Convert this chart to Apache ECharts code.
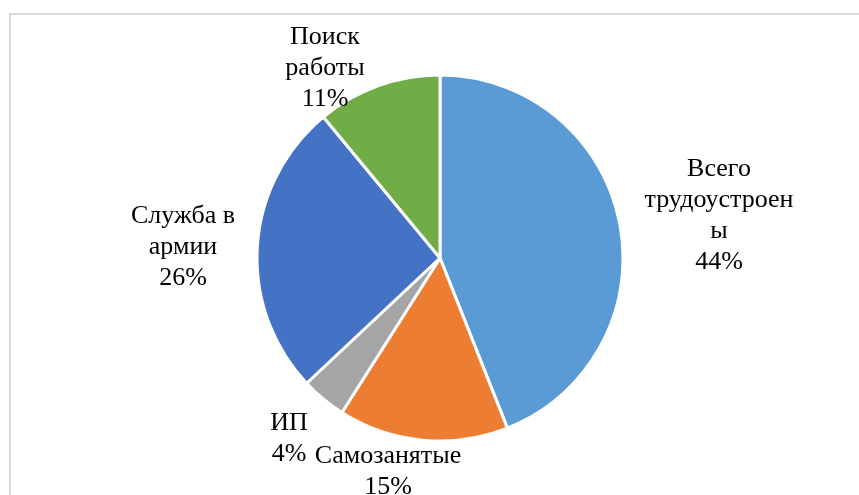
<!DOCTYPE html>
<html><head><meta charset="utf-8">
<script src="https://cdn.jsdelivr.net/npm/echarts@6/dist/echarts.min.js"></script>
<style>html,body{margin:0;padding:0;background:#fff}#c{width:859px;height:495px}</style>
</head><body><div id="c"></div>
<script>
const categories = ['Всего трудоустроены', 'Самозанятые', 'ИП', 'Служба в армии', 'Поиск работы'];
const labelText = ['Всего\nтрудоустроен\nы', 'Самозанятые', 'ИП', 'Служба в\nармии', 'Поиск\nработы'];
const values = [44, 15, 4, 26, 11];
const colors = ['#5B9BD5', '#ED7D31', '#A5A5A5', '#4472C4', '#70AD47'];

const labelAnchors = [[719, 154], [388, 441], [289, 408], [183, 201], [325, 22]];

const chart = echarts.init(document.getElementById('c'), null, {renderer: 'canvas'});
chart.setOption({
  animation: false,
  graphic: [{
    type: 'rect', shape: {x: 10, y: 14, width: 860, height: 500},
    style: {fill: 'none', stroke: '#d9d9d9', lineWidth: 2}, silent: true
  }],
  series: [{
    type: 'pie',
    center: [440, 258],
    radius: [0, 183],
    startAngle: 90,
    clockwise: true,
    itemStyle: {borderColor: '#ffffff', borderWidth: 3},
    labelLine: {show: false},
    label: {
      show: true,
      position: 'outside',
      fontFamily: '"Times New Roman", "Liberation Serif", serif',
      fontSize: 26,
      lineHeight: 31,
      color: '#000',
      align: 'center',
      formatter: p => labelText[p.dataIndex] + '\n' + values[p.dataIndex] + '%'
    },
    labelLayout: p => ({
      x: labelAnchors[p.dataIndex][0],
      y: labelAnchors[p.dataIndex][1],
      align: 'center',
      verticalAlign: 'top'
    }),
    data: categories.map((n, i) => ({name: n, value: values[i], itemStyle: {color: colors[i]}}))
  }]
});
</script></body></html>
